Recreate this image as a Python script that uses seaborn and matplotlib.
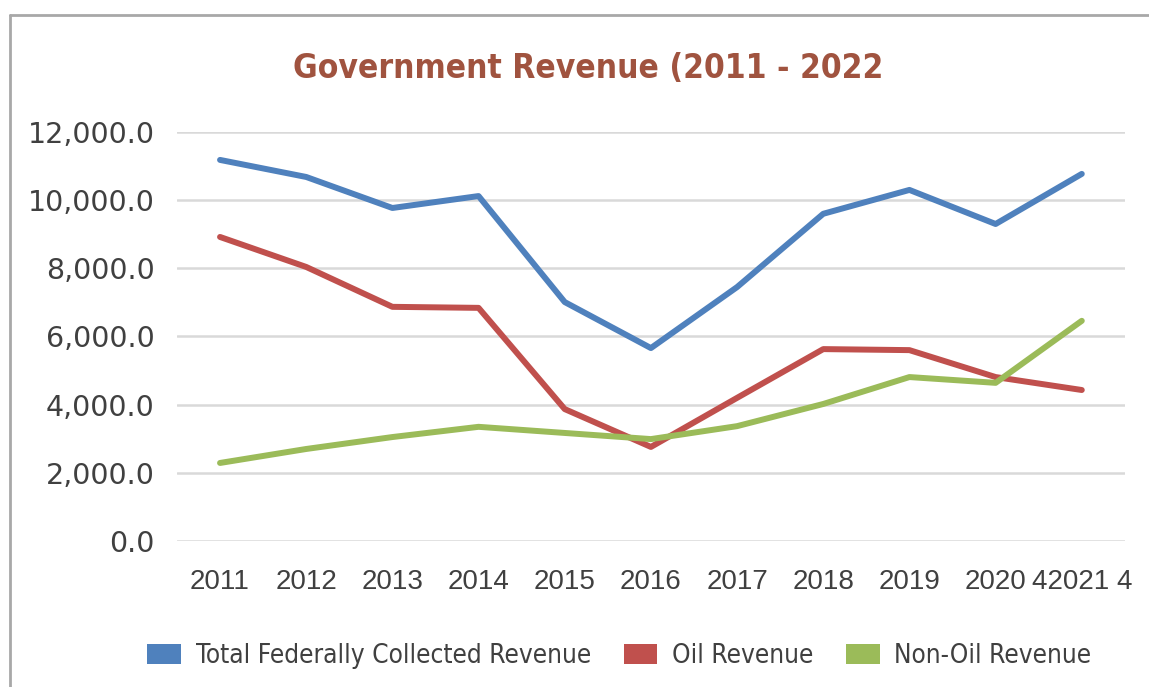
import numpy as np
import pandas as pd
import matplotlib
matplotlib.use("Agg")
import matplotlib.pyplot as plt
from matplotlib.patches import Patch
from matplotlib.ticker import FuncFormatter
import seaborn as sns

# Revenue by year
years = ["2011", "2012", "2013", "2014", "2015", "2016",
         "2017", "2018", "2019", "2020", "42021 4"]
total_revenue = [11180, 10680, 9770, 10120, 7010, 5660,
                 7450, 9600, 10300, 9300, 10770]
oil_revenue = [8920, 8040, 6870, 6840, 3870, 2760,
               4200, 5630, 5600, 4810, 4430]
non_oil_revenue = [2290, 2700, 3050, 3350, 3170, 2990,
                   3370, 4020, 4810, 4640, 6460]
series_names = ["Total Federally Collected Revenue", "Oil Revenue", "Non-Oil Revenue"]
title_text = "Government Revenue (2011 - 2022"

colors = ["#4F81BD", "#C0504D", "#9BBB59"]

idx = np.arange(len(years))
df = pd.concat([
    pd.DataFrame({"pos": idx, "value": vals, "series": name})
    for name, vals in zip(series_names, [total_revenue, oil_revenue, non_oil_revenue])
], ignore_index=True)

sns.set_theme(style="white")
plt.rcParams["font.family"] = ["DejaVu Sans"]

fig = plt.figure(figsize=(11.49, 6.87), dpi=100)
ax = fig.add_axes([0.154, 0.2125, 0.825, 0.5954])

sns.lineplot(data=df, x="pos", y="value", hue="series", hue_order=series_names,
             palette=colors, linewidth=4.3, sort=False, legend=False, ax=ax)

ax.set_xlim(-0.5, len(years) - 0.5)
ax.set_ylim(0, 12000)
ax.set_yticks(np.arange(0, 12001, 2000))
ax.yaxis.set_major_formatter(FuncFormatter(lambda v, p: f"{v:,.1f}"))
ax.set_xticks(idx)
ax.set_xticklabels(years, fontfamily="Liberation Sans", fontsize=20, color="#404040")
for lbl in ax.get_yticklabels():
    lbl.set_fontsize(20.5)
    lbl.set_color("#404040")
ax.tick_params(axis="both", length=0)
ax.tick_params(axis="y", pad=16)
ax.tick_params(axis="x", pad=20)
ax.set_xlabel("")
ax.set_ylabel("")
ax.grid(axis="y", color="#D9D9D9", linewidth=1.8)
ax.set_axisbelow(True)
for s in ax.spines.values():
    s.set_visible(False)

fig.text(0.512, 0.901, title_text, ha="center", va="center",
         fontsize=24, fontweight="bold", fontstretch="condensed",
         color="#A0533F")

handles = [Patch(facecolor=c, edgecolor="none") for c in colors]
fig.legend(handles, series_names, loc="center", bbox_to_anchor=(0.539, 0.045),
           ncol=3, frameon=False, handlelength=1.3, handleheight=0.8,
           handletextpad=0.55, columnspacing=1.25,
           prop={"family": "DejaVu Sans", "stretch": "condensed", "size": 18.8})
for t in fig.legends[0].get_texts():
    t.set_color("#404040")

# outer chart border
fig.add_artist(plt.Line2D([10 / 1149, 10 / 1149], [0, 1 - 15 / 687],
                          transform=fig.transFigure, color="#A8A8A8", linewidth=2))
fig.add_artist(plt.Line2D([10 / 1149, 1], [1 - 15 / 687, 1 - 15 / 687],
                          transform=fig.transFigure, color="#A8A8A8", linewidth=2))

fig.savefig("out.png", dpi=100)
